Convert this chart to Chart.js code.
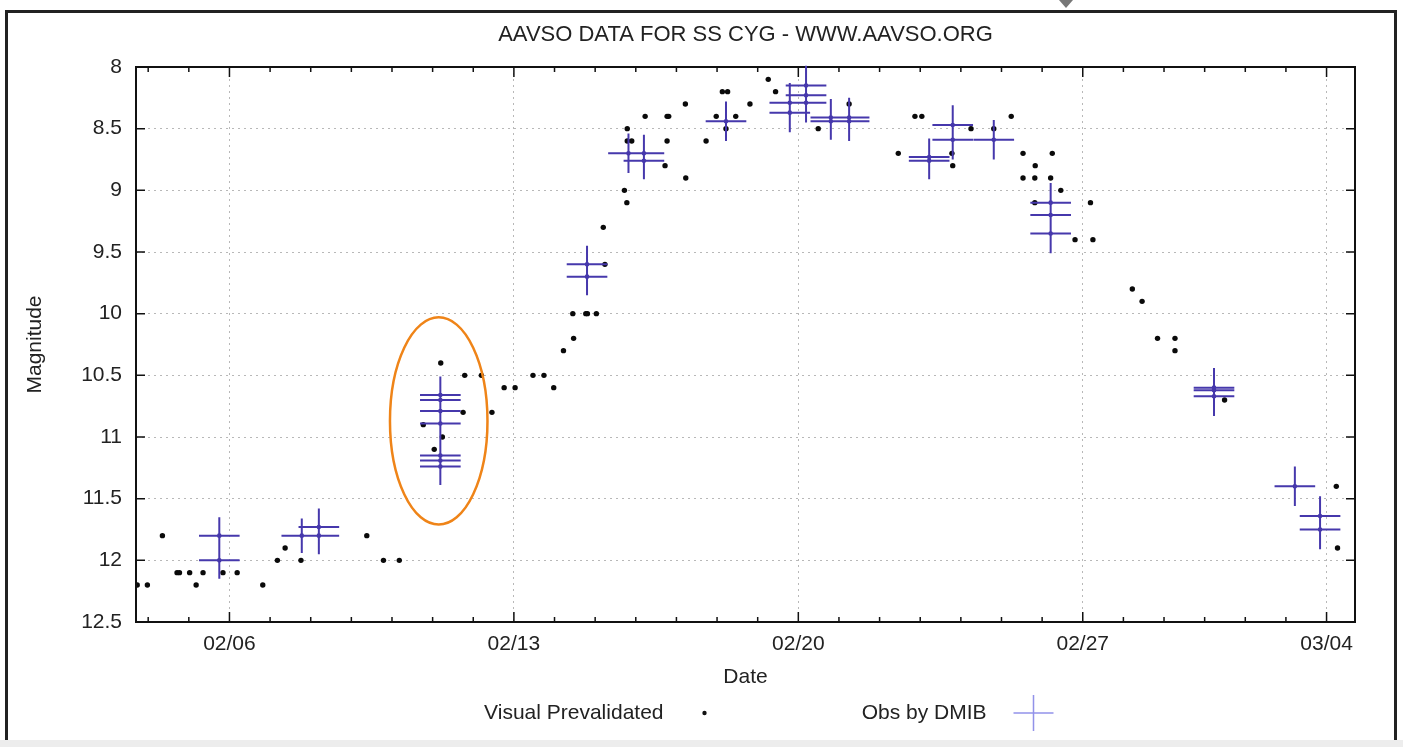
<!DOCTYPE html>
<html>
<head>
<meta charset="utf-8">
<title>AAVSO data for SS Cyg</title>
<script src="https://cdn.jsdelivr.net/npm/chart.js@4.4.1/dist/chart.umd.min.js"></script>
<style>
  html, body { margin: 0; padding: 0; background: #fff; }
  #wrap { position: relative; width: 1403px; height: 747px; overflow: hidden; background: #fff; }
  #frame { position: absolute; left: 5px; top: 10px; width: 1386px; height: 740px; border: 3px solid #222; border-bottom: none; }
  #shade { position: absolute; left: 0; top: 740px; width: 1403px; height: 7px; background: #ededed; }
  #arrow { position: absolute; left: 1059px; top: 0; width: 0; height: 0; border-left: 7px solid transparent; border-right: 7px solid transparent; border-top: 8px solid #777; }
  #chart { position: absolute; left: 0; top: 0; }
</style>
</head>
<body>
<div id="wrap">
  <div id="frame"></div>
  <div id="shade"></div>
  <div id="arrow"></div>
  <canvas id="chart" width="1403" height="747"></canvas>
</div>
<script>
// days counted from the start of February (03/04 = day 33, leap year)
const xTickDays = [6, 13, 20, 27, 33];
const xTickLabels = ["02/06", "02/13", "02/20", "02/27", "03/04"];
const yTickValues = [8, 8.5, 9, 9.5, 10, 10.5, 11, 11.5, 12, 12.5];
const yTickLabels = ["8", "8.5", "9", "9.5", "10", "10.5", "11", "11.5", "12", "12.5"];

const visualDays = [
  3.73, 3.98, 4.35, 4.71, 4.77, 5.02, 5.18, 5.35, 5.84, 6.19,
  6.82, 7.18, 7.37, 7.76, 9.38, 9.79, 10.18, 11.2, 11.79, 12.2,
  11.75, 12.46, 12.76, 13.03, 13.47, 13.74, 13.98, 14.22, 14.47, 14.45,
  11.24, 11.04, 10.77, 15.24, 14.77, 14.81, 15.03, 15.2, 19.26, 19.44,
  18.13, 18.26, 17.22, 18.81, 16.23, 16.77, 16.81, 17.98, 18.46, 15.79,
  20.49, 15.79, 15.9, 16.77, 17.73, 16.72, 17.23, 15.72, 15.78, 18.22,
  21.25, 22.87, 23.04, 25.24, 24.25, 22.46, 23.78, 23.8, 25.53, 26.25,
  25.83, 25.53, 25.82, 26.21, 26.46, 27.19, 26.81, 27.25, 28.22, 28.46,
  28.84, 29.27, 29.27, 30.49, 33.24, 33.27, 24.81, 25.82
];
const visualMags = [
  12.2, 12.2, 11.8, 12.1, 12.1, 12.1, 12.2, 12.1, 12.1, 12.1,
  12.2, 12.0, 11.9, 12.0, 11.8, 12.0, 12.0, 10.4, 10.5, 10.5,
  10.8, 10.8, 10.6, 10.6, 10.5, 10.5, 10.6, 10.3, 10.2, 10.0,
  11.0, 11.1, 10.9, 9.6, 10.0, 10.0, 10.0, 9.3, 8.1, 8.2,
  8.2, 8.2, 8.3, 8.3, 8.4, 8.4, 8.4, 8.4, 8.4, 8.5,
  8.5, 8.6, 8.6, 8.6, 8.6, 8.8, 8.9, 9.0, 9.1, 8.5,
  8.3, 8.4, 8.4, 8.4, 8.5, 8.7, 8.7, 8.8, 8.7, 8.7,
  8.8, 8.9, 8.9, 8.9, 9.0, 9.1, 9.4, 9.4, 9.8, 9.9,
  10.2, 10.2, 10.3, 10.7, 11.4, 11.9, 8.5, 9.1
];

const dmibDays = [
  5.75, 5.75, 7.78, 8.2, 8.2,
  11.19, 11.19, 11.19, 11.19, 11.19, 11.19, 11.19,
  14.8, 14.8, 15.82, 16.2, 16.2, 18.22,
  19.79, 19.79, 20.19, 20.19, 20.19, 20.8, 20.8, 21.25, 21.25,
  23.22, 23.22, 23.8, 23.8, 24.81,
  26.21, 26.21, 26.21, 30.23, 30.23, 30.23, 32.22, 32.84, 32.84
];
const dmibMags = [
  11.8, 12.0, 11.8, 11.8, 11.73,
  10.66, 10.7, 10.79, 10.89, 11.15, 11.19, 11.24,
  9.6, 9.7, 8.7, 8.7, 8.76, 8.44,
  8.29, 8.37, 8.15, 8.23, 8.29, 8.41, 8.44, 8.41, 8.44,
  8.73, 8.76, 8.47, 8.59, 8.59,
  9.1, 9.2, 9.35, 10.6, 10.62, 10.67, 11.4, 11.64, 11.75
];
const dmibErrs = [
  0.15, 0.15, 0.14, 0.15, 0.15,
  0.15, 0.15, 0.15, 0.15, 0.15, 0.15, 0.15,
  0.15, 0.15, 0.16, 0.15, 0.15, 0.16,
  0.16, 0.16, 0.16, 0.16, 0.16, 0.15, 0.15, 0.16, 0.16,
  0.15, 0.15, 0.16, 0.16, 0.16,
  0.16, 0.16, 0.16, 0.16, 0.16, 0.16, 0.16, 0.16, 0.16
];
const dmibDayErr = 0.5;

// the hand-drawn orange ring around the 02/11 group
const ringCenter = { day: 11.15, mag: 10.87 };
const ringRadius = { days: 1.2, mags: 0.84 };

const chartTitle = "AAVSO DATA FOR SS CYG - WWW.AAVSO.ORG";

const FONT = '"Liberation Sans", Arial, Helvetica, sans-serif';
const TEXT_COLOR = "#222";
const DMIB_COLOR = "rgb(70, 56, 172)";

// gnuplot centres its title over the plot box, not the whole canvas
const plotTitle = {
  id: "plotTitle",
  afterDraw(chart) {
    const { ctx, chartArea: a } = chart;
    ctx.save();
    ctx.font = `22px ${FONT}`;
    ctx.fillStyle = TEXT_COLOR;
    ctx.textAlign = "center";
    ctx.textBaseline = "middle";
    ctx.fillText(chartTitle, (a.left + a.right) / 2, a.top - 32);
    ctx.restore();
  }
};

const plotFrame = {
  id: "plotFrame",
  afterDatasetsDraw(chart) {
    const { ctx, chartArea: a, scales: { x, y } } = chart;
    ctx.save();
    ctx.strokeStyle = "#111";
    ctx.lineWidth = 2;
    ctx.strokeRect(a.left, a.top, a.right - a.left, a.bottom - a.top);
    ctx.lineWidth = 1.5;
    ctx.beginPath();
    for (let d = Math.ceil(x.min); d <= x.max; d += 1) {
      const px = x.getPixelForValue(d);
      const len = xTickDays.includes(d) ? 10 : 5;
      ctx.moveTo(px, a.bottom);
      ctx.lineTo(px, a.bottom - len);
      ctx.moveTo(px, a.top);
      ctx.lineTo(px, a.top + len);
    }
    yTickValues.forEach((v) => {
      const py = y.getPixelForValue(v);
      ctx.moveTo(a.left, py);
      ctx.lineTo(a.left + 9, py);
      ctx.moveTo(a.right, py);
      ctx.lineTo(a.right - 9, py);
    });
    ctx.stroke();
    ctx.restore();
  }
};

const errorBars = {
  id: "errorBars",
  afterDatasetsDraw(chart) {
    const { ctx, scales: { x, y } } = chart;
    ctx.save();
    ctx.strokeStyle = DMIB_COLOR;
    ctx.lineWidth = 2;
    ctx.beginPath();
    dmibDays.forEach((d, i) => {
      const m = dmibMags[i];
      const px = x.getPixelForValue(d);
      const py = y.getPixelForValue(m);
      ctx.moveTo(x.getPixelForValue(d - dmibDayErr), py);
      ctx.lineTo(x.getPixelForValue(d + dmibDayErr), py);
      ctx.moveTo(px, y.getPixelForValue(m - dmibErrs[i]));
      ctx.lineTo(px, y.getPixelForValue(m + dmibErrs[i]));
    });
    ctx.stroke();
    ctx.restore();
  }
};

const ring = {
  id: "ring",
  afterDatasetsDraw(chart) {
    const { ctx, scales: { x, y } } = chart;
    const cx = x.getPixelForValue(ringCenter.day);
    const cy = y.getPixelForValue(ringCenter.mag);
    const rx = Math.abs(x.getPixelForValue(ringCenter.day + ringRadius.days) - cx);
    const ry = Math.abs(y.getPixelForValue(ringCenter.mag + ringRadius.mags) - cy);
    ctx.save();
    ctx.strokeStyle = "#ef8418";
    ctx.lineWidth = 2.5;
    ctx.beginPath();
    ctx.ellipse(cx, cy, rx, ry, 0, 0, Math.PI * 2);
    ctx.stroke();
    ctx.restore();
  }
};

// gnuplot style key: label first, sample after it
const keyRow = {
  id: "keyRow",
  afterDraw(chart) {
    const { ctx, chartArea: a } = chart;
    const mid = (a.left + a.right) / 2;
    const ky = a.bottom + 91;
    ctx.save();
    ctx.font = `21px ${FONT}`;
    ctx.fillStyle = TEXT_COLOR;
    ctx.textAlign = "right";
    ctx.textBaseline = "middle";
    ctx.fillText("Visual Prevalidated", mid - 82, ky);
    ctx.fillText("Obs by DMIB", mid + 241, ky);
    ctx.fillStyle = "#111";
    ctx.beginPath();
    ctx.arc(mid - 41, ky, 2.2, 0, Math.PI * 2);
    ctx.fill();
    ctx.strokeStyle = "rgba(110, 110, 225, 0.75)";
    ctx.lineWidth = 1.5;
    ctx.beginPath();
    ctx.moveTo(mid + 268, ky);
    ctx.lineTo(mid + 308, ky);
    ctx.moveTo(mid + 288, ky - 18);
    ctx.lineTo(mid + 288, ky + 18);
    ctx.stroke();
    ctx.restore();
  }
};

function buildChart() {
  const ctx = document.getElementById("chart");
  return new Chart(ctx, {
    type: "scatter",
    data: {
      datasets: [
        {
          label: "Obs by DMIB",
          data: dmibDays.map((d, i) => ({ x: d, y: dmibMags[i] })),
          backgroundColor: DMIB_COLOR,
          borderWidth: 0,
          pointRadius: 2.3,
          order: 1
        },
        {
          label: "Visual Prevalidated",
          data: visualDays.map((d, i) => ({ x: d, y: visualMags[i] })),
          backgroundColor: "#0a0a0a",
          borderWidth: 0,
          pointRadius: 2.7,
          order: 2
        }
      ]
    },
    options: {
      responsive: false,
      animation: false,
      layout: { padding: { left: 0, right: 48, top: 67, bottom: 55 } },
      plugins: {
        legend: { display: false },
        tooltip: { enabled: false },
        title: { display: false }
      },
      scales: {
        x: {
          type: "linear",
          min: 3.7,
          max: 33.7,
          afterBuildTicks: (scale) => {
            scale.ticks = xTickDays.map((v) => ({ value: v }));
          },
          afterFit: (scale) => {
            scale.height = 70;
          },
          ticks: {
            callback: (value) => xTickLabels[xTickDays.indexOf(value)],
            color: TEXT_COLOR,
            font: { family: FONT, size: 21 },
            padding: 10,
            maxRotation: 0,
            autoSkip: false
          },
          grid: { color: "#b8b8b8", lineWidth: 1, drawTicks: false },
          border: { display: false, dash: [2, 4] },
          title: {
            display: true,
            text: "Date",
            color: TEXT_COLOR,
            font: { family: FONT, size: 21 },
            padding: { top: 0, bottom: 2 }
          }
        },
        y: {
          type: "linear",
          reverse: true,
          min: 8,
          max: 12.5,
          afterBuildTicks: (scale) => {
            scale.ticks = yTickValues.map((v) => ({ value: v }));
          },
          afterFit: (scale) => {
            scale.width = 136;
          },
          ticks: {
            callback: (value) => yTickLabels[yTickValues.indexOf(value)],
            color: TEXT_COLOR,
            font: { family: FONT, size: 21 },
            padding: 14
          },
          grid: { color: "#b8b8b8", lineWidth: 1, drawTicks: false },
          border: { display: false, dash: [2, 4] },
          title: {
            display: true,
            text: "Magnitude",
            color: TEXT_COLOR,
            font: { family: FONT, size: 21 },
            padding: { top: 23, bottom: 0 }
          }
        }
      }
    },
    plugins: [plotTitle, plotFrame, errorBars, ring, keyRow]
  });
}

buildChart();
</script>
</body>
</html>
